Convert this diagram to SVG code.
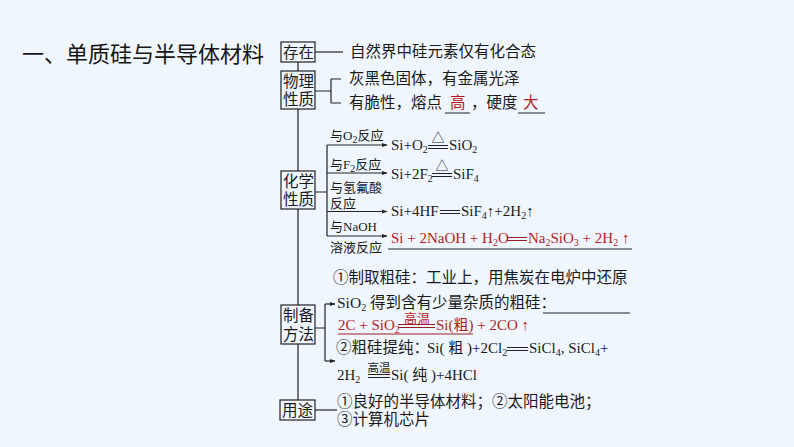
<svg xmlns="http://www.w3.org/2000/svg" width="794" height="447" viewBox="0 0 794 447">
<style>
.bg{fill:#f0f6fd}
.box{fill:none;stroke:#222;stroke-width:1.2}
.ln{fill:none;stroke:#222;stroke-width:1.2}
.rl{fill:none;stroke:#9b1c22;stroke-width:1.2}
.t{font-family:"Liberation Serif","Noto Sans CJK SC",serif;font-size:15.5px;fill:#1a1a1a}
.s{font-family:"Liberation Serif","Noto Sans CJK SC",serif;font-size:13px;fill:#1a1a1a}
.e{font-family:"Liberation Serif","Noto Sans CJK SC",serif;font-size:15px;fill:#1a1a1a}
.r{fill:#b31b24}
.sub{font-size:10px}
.title{font-family:"Noto Sans CJK SC",sans-serif;font-size:22px;fill:#151515}
</style>
<defs>
<marker id="ah" viewBox="0 0 6 6" refX="5.5" refY="3" markerWidth="6" markerHeight="6" orient="auto" markerUnits="userSpaceOnUse">
<path d="M0,0.8 L6,3 L0,5.2 Z" fill="#222"/>
</marker>
</defs>
<rect class="bg" x="0" y="0" width="794" height="447"/>
<text class="title" x="22" y="62">一、单质硅与半导体材料</text>

<g id="connectors">
<path class="ln" d="M298 62 V71 M298 109 V171 M298 209 V305 M298 344 V400"/>
<path class="ln" d="M315 52 H343"/>
<path class="ln" d="M315 91 H331 M331 79 V103 M331 79 H341 M331 103 H341"/>
<path class="ln" d="M315 192 H327 M327 145 V236"/>
<path class="ln" marker-end="url(#ah)" d="M327 145 H387"/>
<path class="ln" marker-end="url(#ah)" d="M327 173 H387"/>
<path class="ln" marker-end="url(#ah)" d="M327 211.5 H387"/>
<path class="ln" marker-end="url(#ah)" d="M327 236 H387"/>
<path class="ln" d="M315 328 H325 M325 304 V361"/>
<path class="ln" marker-end="url(#ah)" d="M325 304 H335"/>
<path class="ln" marker-end="url(#ah)" d="M325 361 H335"/>
<path class="ln" d="M315 410 H337"/>
</g>

<g id="node-cunzai">
<rect class="box" x="281" y="42" width="34" height="20"/>
<text class="t" x="283" y="58">存在</text>
<text class="t" x="350" y="57">自然界中硅元素仅有化合态</text>
</g>

<g id="node-wuli">
<rect class="box" x="281" y="71" width="34" height="38"/>
<text class="t" x="283" y="87">物理</text>
<text class="t" x="283" y="105">性质</text>
<text class="t" x="349" y="84">灰黑色固体，有金属光泽</text>
<text class="t" x="349" y="108">有脆性，熔点</text>
<text class="t r" x="450" y="108">高</text>
<text class="t" x="471" y="108">，硬度</text>
<text class="t r" x="523" y="108">大</text>
<path class="ln" d="M445 113 H470 M518 113 H545"/>
</g>

<g id="node-huaxue">
<rect class="box" x="281" y="171" width="34" height="38"/>
<text class="t" x="283" y="187">化学</text>
<text class="t" x="283" y="205">性质</text>
<text class="s" x="330" y="140">与O<tspan class="sub" dy="3">2</tspan><tspan dy="-3">反应</tspan></text>
<text class="e" x="391" y="150">Si+O<tspan class="sub" dy="3">2</tspan></text>
<path class="ln" d="M428 145.5 H448 M428 148.5 H448"/>
<text class="s" x="438" y="142" text-anchor="middle">△</text>
<text class="e" x="449" y="150">SiO<tspan class="sub" dy="3">2</tspan></text>

<text class="s" x="330" y="169">与F<tspan class="sub" dy="3">2</tspan><tspan dy="-3">反应</tspan></text>
<text class="e" x="391" y="179">Si+2F<tspan class="sub" dy="3">2</tspan></text>
<path class="ln" d="M432 173.5 H452 M432 176.5 H452"/>
<text class="s" x="442" y="170" text-anchor="middle">△</text>
<text class="e" x="453" y="179">SiF<tspan class="sub" dy="3">4</tspan></text>

<text class="s" x="330" y="192">与氢氟酸</text>
<text class="s" x="330" y="208">反应</text>
<text class="e" x="391" y="216">Si+4HF</text>
<path class="ln" d="M440 210.5 H460 M440 213.5 H460"/>
<text class="e" x="461" y="216">SiF<tspan class="sub" dy="3">4</tspan><tspan dy="-3">↑+2H</tspan><tspan class="sub" dy="3">2</tspan><tspan dy="-3">↑</tspan></text>

<text class="s" x="330" y="231">与NaOH</text>
<text class="s" x="330" y="252">溶液反应</text>
<text class="e r" x="391" y="243">Si + 2NaOH + H<tspan class="sub" dy="3">2</tspan><tspan dy="-3">O</tspan></text>
<path class="rl" d="M507 237.5 H527 M507 240.5 H527"/>
<text class="e r" x="528" y="243">Na<tspan class="sub" dy="3">2</tspan><tspan dy="-3">SiO</tspan><tspan class="sub" dy="3">3</tspan><tspan dy="-3"> + 2H</tspan><tspan class="sub" dy="3">2</tspan><tspan dy="-3"> ↑</tspan></text>
<path class="ln" d="M388 249 H632"/>
</g>

<g id="node-zhibei">
<rect class="box" x="281" y="305" width="34" height="39"/>
<text class="t" x="283" y="321">制备</text>
<text class="t" x="283" y="340">方法</text>
<text class="t" x="333" y="283">①制取粗硅：工业上，用焦炭在电炉中还原</text>
<text class="t" x="337" y="308">SiO<tspan class="sub" dy="3">2</tspan><tspan dy="-3"> 得到含有少量杂质的粗硅：</tspan></text>
<path class="ln" d="M543 313 H630"/>
<text class="e r" x="338" y="330">2C + SiO<tspan class="sub" dy="3">2</tspan></text>
<path class="rl" d="M398 324.5 H435 M398 327.5 H435"/>
<text class="t r" x="417" y="323" text-anchor="middle" style="font-size:13px">高温</text>
<text class="e r" x="436" y="330">Si(粗) + 2CO ↑</text>
<path class="rl" d="M338 334 H473"/>
<text class="t" x="336" y="353">②粗硅提纯：</text>
<text class="e" x="427" y="353">Si( 粗 )+2Cl<tspan class="sub" dy="3">2</tspan></text>
<path class="ln" d="M507 347.5 H528 M507 350.5 H528"/>
<text class="e" x="529" y="353">SiCl<tspan class="sub" dy="3">4</tspan><tspan dy="-3">, SiCl</tspan><tspan class="sub" dy="3">4</tspan><tspan dy="-3">+</tspan></text>
<text class="e" x="337" y="380">2H<tspan class="sub" dy="3">2</tspan></text>
<path class="ln" d="M368 374.5 H390 M368 377.5 H390"/>
<text class="s" x="379" y="372" text-anchor="middle" style="font-size:11.5px">高温</text>
<text class="e" x="391" y="380">Si( 纯 )+4HCl</text>
</g>

<g id="node-yongtu">
<rect class="box" x="280" y="400" width="35" height="20"/>
<text class="t" x="282" y="416">用途</text>
<text class="t" x="337" y="407">①良好的半导体材料；②太阳能电池；</text>
<text class="t" x="337" y="425">③计算机芯片</text>
</g>
</svg>
